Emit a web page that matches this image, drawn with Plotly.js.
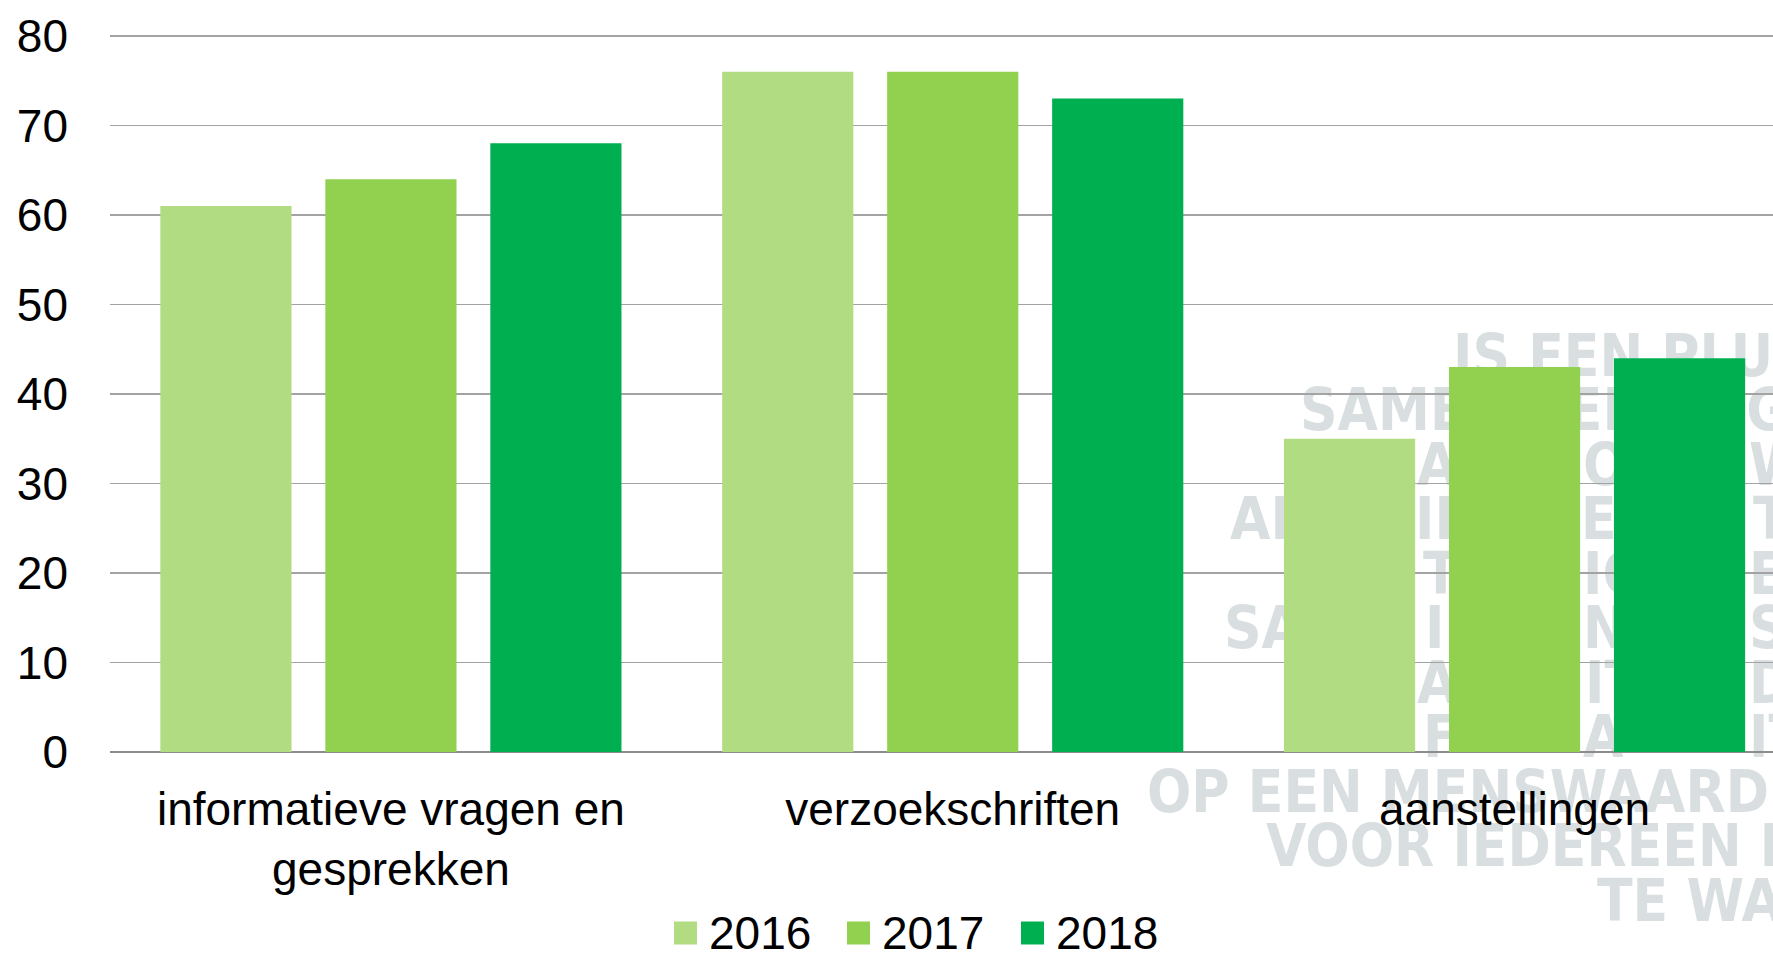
<!DOCTYPE html>
<html>
<head>
<meta charset="utf-8">
<script src="https://cdn.plot.ly/plotly-3.0.1.min.js"></script>
<style>
  html, body { margin: 0; padding: 0; background: #ffffff; }
  #chart { width: 1773px; height: 953px; }
</style>
</head>
<body>
<div id="chart"></div>
<script>
// ---- data ----
const categories = ['informatieve vragen en<br>gesprekken', 'verzoekschriften', 'aanstellingen'];
const seriesNames = ['2016', '2017', '2018'];
const values2016 = [61, 76, 35];
const values2017 = [64, 76, 43];
const values2018 = [68, 73, 44];
const yTickValues = [0, 10, 20, 30, 40, 50, 60, 70, 80];
const seriesColors = ['#b1dc82', '#92d050', '#00b050'];

// background watermark text (decorative)
const watermarkLines = [
  { t: 'IS EEN PLURALISTISCHE', x: 1450, y: 352 },
  { t: 'SAMENWERKING', x: 1297, y: 406 },
  { t: 'A', x: 1414, y: 461 }, { t: 'O', x: 1580, y: 461 }, { t: 'W', x: 1746, y: 461 },
  { t: 'AL', x: 1227, y: 515 }, { t: 'ID', x: 1412, y: 515 }, { t: 'EN', x: 1578, y: 515 }, { t: 'T', x: 1750, y: 515 },
  { t: 'T', x: 1420, y: 570 }, { t: 'IC', x: 1580, y: 570 }, { t: 'EZ', x: 1746, y: 570 },
  { t: 'SA', x: 1221, y: 624 }, { t: 'I', x: 1422, y: 624 }, { t: 'N', x: 1580, y: 624 }, { t: 'ST', x: 1746, y: 624 },
  { t: 'A', x: 1414, y: 679 }, { t: 'IT', x: 1582, y: 679 }, { t: 'DI', x: 1746, y: 679 },
  { t: 'F', x: 1420, y: 733 }, { t: 'A', x: 1580, y: 733 }, { t: 'IT', x: 1746, y: 733 },
  { t: 'OP EEN MENSWAARDIG', x: 1144, y: 788 },
  { t: 'VOOR IEDEREEN IN', x: 1263, y: 842 },
  { t: 'TE WAARBORGEN', x: 1594, y: 897 }
];

// ---- layout geometry ----
const W = 1773, H = 953;
const M = { l: 110, r: 0, t: 27, b: 201 };
const plotW = W - M.l - M.r, plotH = H - M.t - M.b;
const px2x = px => (px - M.l) / plotW;
const py2y = py => (H - M.b - py) / plotH;

const labelFont = { family: 'Liberation Sans, Arial, Helvetica, sans-serif', size: 46, color: '#000000' };

const seriesValues = [values2016, values2017, values2018];
const traces = seriesNames.map((name, i) => ({
  type: 'bar',
  name: name,
  x: categories,
  y: seriesValues[i],
  marker: { color: seriesColors[i], line: { width: 0 } },
  showlegend: false,
  hoverinfo: 'x+y+name'
}));

const shapes = [];
const annotations = [];

// watermark as shape labels (drawn below grid)
watermarkLines.forEach(w => {
  shapes.push({
    type: 'rect', xref: 'paper', yref: 'paper', layer: 'below',
    x0: px2x(w.x), x1: px2x(w.x + 4), y0: py2y(w.y + 2), y1: py2y(w.y - 2),
    line: { width: 0 }, fillcolor: 'rgba(0,0,0,0)',
    label: {
      text: w.t, textposition: 'middle left', padding: 0,
      font: { family: 'Liberation Sans Narrow, DejaVu Sans Condensed, Arial Narrow, sans-serif', size: 58, weight: 700, color: '#d9dfe0' }
    }
  });
});

// custom legend
const legendSquareX = [674, 847, 1021];
const legendY = 933, sq = 23;
seriesNames.forEach((name, i) => {
  shapes.push({
    type: 'rect', xref: 'paper', yref: 'paper', layer: 'above',
    x0: px2x(legendSquareX[i]), x1: px2x(legendSquareX[i] + sq),
    y0: py2y(legendY + sq / 2), y1: py2y(legendY - sq / 2),
    line: { width: 0 }, fillcolor: seriesColors[i]
  });
  annotations.push({
    xref: 'paper', yref: 'paper', x: px2x(legendSquareX[i] + sq + 10), y: py2y(legendY),
    xanchor: 'left', yanchor: 'middle', showarrow: false,
    text: name, font: labelFont
  });
});

const layout = {
  width: W, height: H,
  margin: M,
  paper_bgcolor: 'rgba(0,0,0,0)',
  plot_bgcolor: 'rgba(0,0,0,0)',
  bargap: 0.119,
  bargroupgap: 0.205,
  barmode: 'group',
  xaxis: {
    type: 'category',
    range: [-0.5, 2.46],
    showgrid: false, zeroline: false, showline: false, ticks: '',
    tickfont: labelFont,
    ticklabelstandoff: 26,
    automargin: false
  },
  yaxis: {
    range: [0, 81],
    tickvals: yTickValues,
    ticktext: yTickValues.map(String),
    showgrid: true, gridcolor: '#a3a3a3', gridwidth: 1.8,
    zeroline: true, zerolinecolor: '#8c8c8c', zerolinewidth: 2.5,
    showline: false, ticks: '',
    tickfont: labelFont,
    ticklabelstandoff: 41,
    automargin: false
  },
  shapes: shapes,
  annotations: annotations,
  showlegend: false
};

Plotly.newPlot('chart', traces, layout, { displayModeBar: false, staticPlot: true });
</script>
</body>
</html>
